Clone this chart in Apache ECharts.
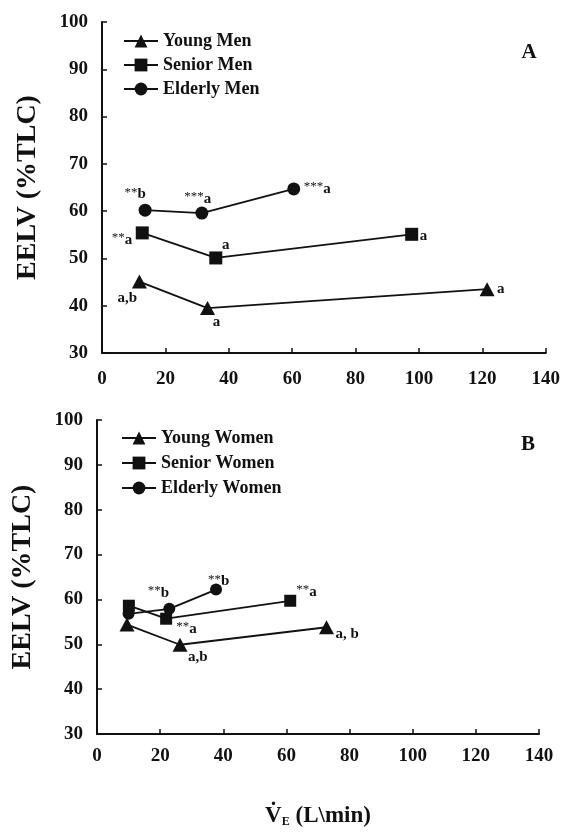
<!DOCTYPE html>
<html>
<head>
<meta charset="utf-8">
<script src="https://cdn.jsdelivr.net/npm/echarts@6/dist/echarts.min.js"></script>
<style>
  html, body { margin: 0; padding: 0; background: #fff; }
  #chart { width: 563px; height: 836px; }
</style>
</head>
<body>
<div id="chart"></div>
<script>
// Panel A: men
const youngMenVE = [11.8, 33.3, 121.5];
const youngMenEELV = [45.1, 39.5, 43.5];
const seniorMenVE = [12.7, 35.9, 97.7];
const seniorMenEELV = [55.4, 50.1, 55.1];
const elderlyMenVE = [13.6, 31.5, 60.5];
const elderlyMenEELV = [60.2, 59.6, 64.7];
const youngMenNotes = ['a,b', 'a', 'a'];
const seniorMenNotes = ['**a', 'a', 'a'];
const elderlyMenNotes = ['**b', '***a', '***a'];

// Panel B: women
const youngWomenVE = [9.5, 26.3, 72.7];
const youngWomenEELV = [54.4, 49.9, 53.8];
const seniorWomenVE = [10.1, 21.9, 61.2];
const seniorWomenEELV = [58.6, 55.7, 59.7];
const elderlyWomenVE = [10.0, 22.9, 37.7];
const elderlyWomenEELV = [56.8, 57.9, 62.2];
const youngWomenNotes = ['', 'a,b', 'a, b'];
const seniorWomenNotes = ['', '**a', '**a'];
const elderlyWomenNotes = ['', '**b', '**b'];

const FONT = "'Liberation Serif', 'Times New Roman', serif";

// label placement for each note: [dx, dy, align]
const PLACE = {
  youngMen: [[-12, 17, 'center'], [9, 14, 'center'], [10, 0, 'left']],
  seniorMen: [[-10, 7, 'right'], [10, -13, 'center'], [8, 2, 'left']],
  elderlyMen: [[-10, -16, 'center'], [-4, -14, 'center'], [10, 0, 'left']],
  youngWomen: [[0, 0, 'center'], [8, 12, 'left'], [9, 7, 'left']],
  seniorWomen: [[0, 0, 'center'], [10, 10, 'left'], [6, -9, 'left']],
  elderlyWomen: [[0, 0, 'center'], [-11, -16, 'center'], [-8, -8, 'left']],
};

const noteText = (note) => {
  const m = note.match(/^(\**)(.*)$/);
  return (m[1] ? '{s|' + m[1] + '}' : '') + '{t|' + m[2] + '}';
};

const buildPoints = (xs, ys, notes, place) =>
  xs.map((x, i) => ({
    value: [x, ys[i]],
    label: notes[i]
      ? {
          show: true,
          position: 'inside',
          offset: [place[i][0], place[i][1]],
          align: place[i][2],
          formatter: noteText(notes[i]),
          rich: {
            s: { fontFamily: FONT, fontSize: 13, color: '#111', padding: [0, 0, 4, 0] },
            t: { fontFamily: FONT, fontSize: 15, fontWeight: 'bold', color: '#111' },
          },
        }
      : { show: false },
  }));

const makeSeries = (name, symbol, size, idx, xs, ys, notes, place) => ({
  name,
  type: 'line',
  xAxisIndex: idx,
  yAxisIndex: idx,
  symbol,
  symbolSize: size,
  color: '#111',
  itemStyle: { color: '#111' },
  lineStyle: { color: '#111', width: 1.8 },
  emphasis: { disabled: true },
  data: buildPoints(xs, ys, notes, place),
});

const makeX = (idx, labelMargin, extra) => Object.assign({
  type: 'value',
  gridIndex: idx,
  min: 0,
  max: 140,
  interval: 20,
  axisLine: { show: true, lineStyle: { color: '#111', width: 2 } },
  axisTick: { show: true, inside: true, length: 5, lineStyle: { color: '#111', width: 1.5 } },
  splitLine: { show: false },
  axisLabel: { color: '#111', fontFamily: FONT, fontSize: 19, fontWeight: 'bold', margin: labelMargin },
}, extra || {});

const makeY = (idx) => ({
  type: 'value',
  gridIndex: idx,
  min: 30,
  max: 100,
  interval: 10,
  name: 'EELV (%TLC)',
  nameLocation: 'middle',
  nameRotate: 90,
  nameGap: 60,
  nameTextStyle: { color: '#111', fontFamily: FONT, fontSize: 28, fontWeight: 'bold' },
  axisLine: { show: true, lineStyle: { color: '#111', width: 2 } },
  axisTick: { show: true, inside: true, length: 5, lineStyle: { color: '#111', width: 1.5 } },
  splitLine: { show: false },
  axisLabel: { color: '#111', fontFamily: FONT, fontSize: 19, fontWeight: 'bold', margin: 14 },
});

const legendStyle = {
  orient: 'vertical',
  itemWidth: 34,
  itemHeight: 16,
  textStyle: { color: '#111', fontFamily: FONT, fontSize: 18, fontWeight: 'bold' },
  selectedMode: false,
};

const chart = echarts.init(document.getElementById('chart'), null, { renderer: 'canvas' });

chart.setOption({
  backgroundColor: '#fff',
  animation: false,
  grid: [
    { left: 102, right: 13, top: 22, bottom: 483 },
    { left: 97, right: 24, top: 420, bottom: 102 },
  ],
  xAxis: [
    makeX(0, 17),
    makeX(1, 13, {
      name: '{v|V\u0307}{e|E}{n| (L\\min)}',
      nameLocation: 'middle',
      nameGap: 70,
      nameTextStyle: {
        rich: {
          v: { fontFamily: FONT, fontSize: 23, fontWeight: 'bold', color: '#111' },
          e: { fontFamily: FONT, fontSize: 12, fontWeight: 'bold', color: '#111', padding: [12, 0, 0, 0] },
          n: { fontFamily: FONT, fontSize: 23, fontWeight: 'bold', color: '#111' },
        },
      },
    }),
  ],
  yAxis: [makeY(0), makeY(1)],
  legend: [
    Object.assign({}, legendStyle, {
      left: 118, top: 27, itemGap: 6,
      data: ['Young Men', 'Senior Men', 'Elderly Men'],
    }),
    Object.assign({}, legendStyle, {
      left: 116, top: 424, itemGap: 7,
      data: ['Young Women', 'Senior Women', 'Elderly Women'],
    }),
  ],
  graphic: [
    { type: 'text', x: 529, y: 53, style: { text: 'A', fontFamily: FONT, fontSize: 21, fontWeight: 'bold', fill: '#111', align: 'center', verticalAlign: 'middle' } },
    { type: 'text', x: 528, y: 445, style: { text: 'B', fontFamily: FONT, fontSize: 21, fontWeight: 'bold', fill: '#111', align: 'center', verticalAlign: 'middle' } },
  ],
  series: [
    makeSeries('Young Men', 'triangle', [15, 14], 0, youngMenVE, youngMenEELV, youngMenNotes, PLACE.youngMen),
    makeSeries('Senior Men', 'rect', 13, 0, seniorMenVE, seniorMenEELV, seniorMenNotes, PLACE.seniorMen),
    makeSeries('Elderly Men', 'circle', 13, 0, elderlyMenVE, elderlyMenEELV, elderlyMenNotes, PLACE.elderlyMen),
    makeSeries('Young Women', 'triangle', [15, 14], 1, youngWomenVE, youngWomenEELV, youngWomenNotes, PLACE.youngWomen),
    makeSeries('Senior Women', 'rect', 12, 1, seniorWomenVE, seniorWomenEELV, seniorWomenNotes, PLACE.seniorWomen),
    makeSeries('Elderly Women', 'circle', 12, 1, elderlyWomenVE, elderlyWomenEELV, elderlyWomenNotes, PLACE.elderlyWomen),
  ],
});
</script>
</body>
</html>
